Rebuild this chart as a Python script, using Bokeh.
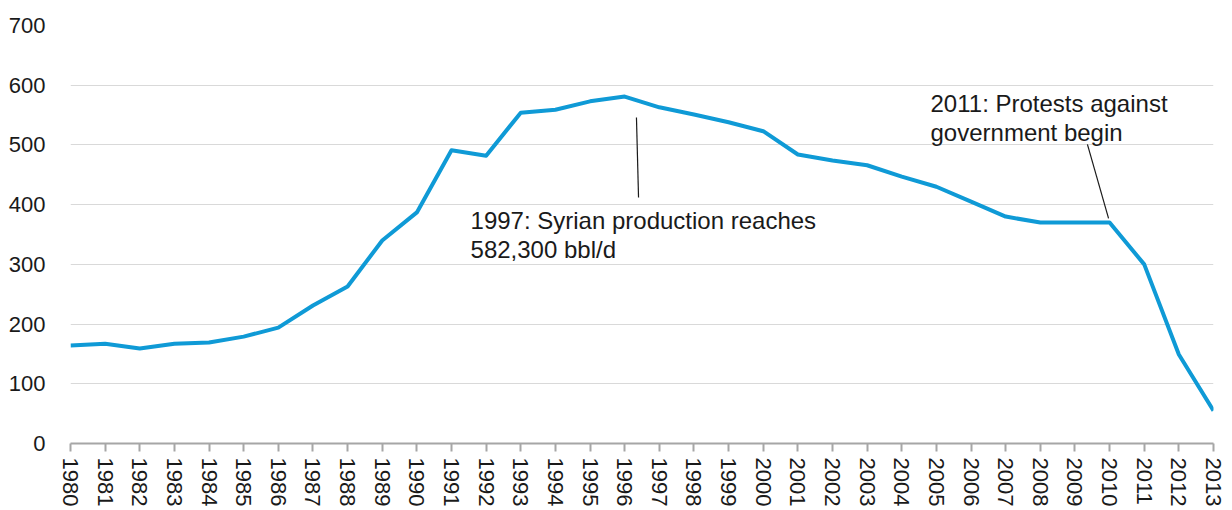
from bokeh.plotting import figure
from bokeh.models import FixedTicker, Range1d
from bokeh.core.properties import value
from bokeh.embed import file_html
from bokeh.resources import INLINE

years = list(range(1980, 2014))
production = [164, 167, 159, 167, 169, 179, 194, 231, 263, 340, 387, 491, 482, 554,
              559, 573, 581, 563, 551, 538, 523, 484, 474, 466, 447, 430, 405, 380,
              370, 370, 370, 300, 149, 55]
year_labels = [str(y) for y in years]
y_ticks = [0, 100, 200, 300, 400, 500, 600, 700]

ann1_lines = ["1997: Syrian production reaches", "582,300 bbl/d"]
ann1_x = 1991.55
ann1_y = [373, 325]
ann1_seg = (1996.34, 546, 1996.4, 412)

ann2_lines = ["2011: Protests against", "government begin"]
ann2_x = 2004.83
ann2_y = [569, 521]
ann2_seg = (2009.36, 501, 2009.97, 377)

FONT = "Liberation Sans"

p = figure(frame_width=1143, frame_height=418, output_backend="svg", toolbar_location=None,
           x_range=Range1d(1980, 2013), y_range=Range1d(0, 700),
           min_border_left=70, min_border_top=25, min_border_right=19, min_border_bottom=0)
p.outline_line_color = None
p.background_fill_color = "white"

p.xgrid.grid_line_color = None
p.ygrid.grid_line_color = "#d9d9d9"
p.ygrid.ticker = FixedTicker(ticks=y_ticks[1:])

p.yaxis.ticker = FixedTicker(ticks=y_ticks)
p.yaxis.axis_line_color = None
p.yaxis.major_tick_line_color = None
p.yaxis.minor_tick_line_color = None
p.yaxis.major_label_standoff = 19
p.yaxis.major_label_text_font = FONT
p.yaxis.major_label_text_font_size = "22px"
p.yaxis.major_label_text_color = "#1a1a1a"

p.xaxis.ticker = FixedTicker(ticks=years)
p.xaxis.major_label_overrides = {y: l for y, l in zip(years, year_labels)}
p.xaxis.major_label_orientation = "vertical"
p.xaxis.axis_line_color = "#a6a6a6"
p.xaxis.axis_line_width = 2
p.xaxis.major_tick_line_color = "#a6a6a6"
p.xaxis.major_tick_line_width = 2
p.xaxis.major_tick_out = 8
p.xaxis.major_tick_in = 0
p.xaxis.minor_tick_line_color = None
p.xaxis.major_label_standoff = 6
p.xaxis.major_label_text_font = FONT
p.xaxis.major_label_text_font_size = "22px"
p.xaxis.major_label_text_color = "#1a1a1a"

p.line(years, production, line_color="#0f9ad6", line_width=4, line_join="round")

for seg in (ann1_seg, ann2_seg):
    p.segment(x0=[seg[0]], y0=[seg[1]], x1=[seg[2]], y1=[seg[3]], line_color="#1a1a1a", line_width=1.2)

for lines, x, ys in ((ann1_lines, ann1_x, ann1_y), (ann2_lines, ann2_x, ann2_y)):
    p.text(x=[x] * len(lines), y=ys, text=lines, text_font=value(FONT), text_font_size="24px",
           text_color="#1a1a1a", text_baseline="alphabetic", text_align="left")

open("out.html", "w").write(file_html(p, INLINE))
